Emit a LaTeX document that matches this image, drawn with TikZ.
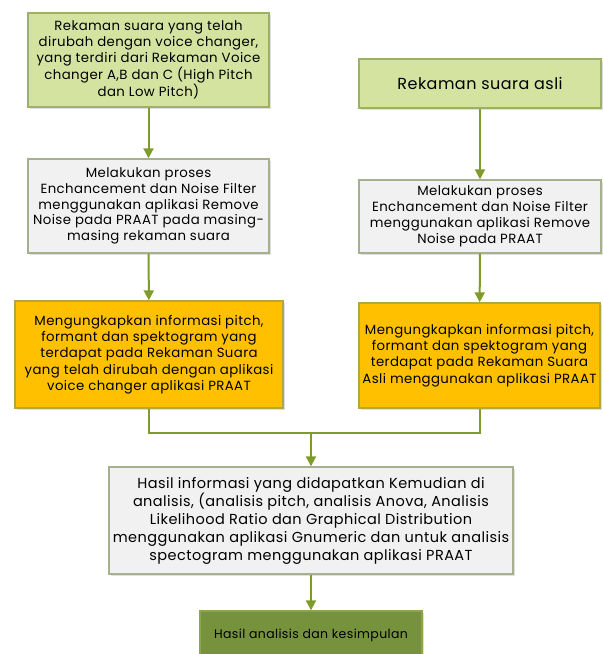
\documentclass[tikz,border=0pt]{standalone}
\usepackage{xcolor}
\usepackage{fontspec}
\setmainfont{Poppins}[LetterSpace=3]
\usepackage{tikz}
\usetikzlibrary{arrows.meta,shadows}
\definecolor{flowLime}{HTML}{D5E3A1}
\definecolor{flowLimeEdge}{HTML}{9EB068}
\definecolor{flowGrey}{HTML}{F1F1F1}
\definecolor{flowGreyEdge}{HTML}{A6B08E}
\definecolor{flowAmber}{HTML}{FFC000}
\definecolor{flowAmberEdge}{HTML}{B4A545}
\definecolor{flowOlive}{HTML}{76923C}
\definecolor{flowOliveEdge}{HTML}{8CA647}
\definecolor{flowArrow}{HTML}{7E9B2C}

\begin{document}
\begin{tikzpicture}[x=1pt, y=1pt, line cap=butt, line join=miter,
  box/.style={draw, line width=1.4pt, align=center, inner sep=0pt,
    drop shadow={shadow xshift=1.5pt, shadow yshift=-1.5pt, opacity=0.25},
    font=\fontsize{13.3}{15.8}\selectfont},
  flow/.style={flowArrow, line width=2pt, -{Triangle[width=10pt,length=10pt]}}]
  \useasboundingbox (0,0) rectangle (603,-654);
  % left column
  \node[box, fill=flowLime, draw=flowLimeEdge, minimum width=241, minimum height=94] (voice) at (148.5,-60)
    {Rekaman suara yang telah\\dirubah dengan voice changer,\\yang terdiri dari Rekaman Voice\\changer A,B dan C  (High Pitch\\dan Low Pitch)};
  \node[box, fill=flowGrey, draw=flowGreyEdge, minimum width=241, minimum height=94] (filterL) at (148.5,-206)
    {Melakukan proses\\Enchancement dan Noise Filter\\menggunakan aplikasi Remove\\Noise pada PRAAT pada masing-\\masing rekaman suara};
  \node[box, fill=flowAmber, draw=flowAmberEdge, minimum width=268, minimum height=107,
    font=\fontsize{13.3}{16.3}\selectfont] (pitchL) at (149,-354.5)
    {Mengungkapkan informasi pitch,\\formant dan spektogram yang\\terdapat pada Rekaman Suara\\yang telah dirubah dengan aplikasi\\voice changer aplikasi PRAAT};
  % right column
  \node[box, fill=flowLime, draw=flowLimeEdge, minimum width=242, minimum height=49,
    font=\fontsize{16}{18}\selectfont] (asli) at (480,-83.5) {Rekaman suara asli};
  \node[box, fill=flowGrey, draw=flowGreyEdge, minimum width=242, minimum height=73] (filterR) at (480,-216.5)
    {Melakukan proses\\Enchancement dan Noise Filter\\menggunakan aplikasi Remove\\Noise pada PRAAT};
  \node[box, fill=flowAmber, draw=flowAmberEdge, minimum width=241, minimum height=105,
    font=\fontsize{13.3}{16.3}\selectfont] (pitchR) at (479.5,-355.5)
    {Mengungkapkan informasi pitch,\\formant dan spektogram yang\\terdapat pada Rekaman Suara\\Asli menggunakan aplikasi PRAAT};
  % analysis
  \node[box, fill=flowGrey, draw=flowGreyEdge, minimum width=404, minimum height=107,
    font=\fontsize{14.5}{18}\selectfont] (analisis) at (311,-520.5)
    {Hasil informasi yang didapatkan Kemudian di\\analisis, (analisis pitch, analisis Anova, Analisis\\Likelihood Ratio dan Graphical Distribution\\menggunakan aplikasi Gnumeric dan untuk analisis\\spectogram menggunakan aplikasi PRAAT};
  \node[box, fill=flowOlive, draw=flowOliveEdge, minimum width=222, minimum height=49,
    font=\fontsize{12.5}{14}\selectfont] (hasil) at (311,-635.5) {Hasil analisis dan kesimpulan};
  \coordinate (merge) at (311,-433);

  \draw[flow] (voice) -- (filterL);
  \draw[flow] (filterL) -- (pitchL);
  \draw[flow] (asli) -- (filterR);
  \draw[flow] (filterR) -- (pitchR);
  \draw[flowArrow, line width=2pt] (pitchL.south) |- (merge) -| (pitchR.south);
  \draw[flow] (merge) -- (analisis);
  \draw[flow] (analisis) -- (hasil);
\end{tikzpicture}
\end{document}
